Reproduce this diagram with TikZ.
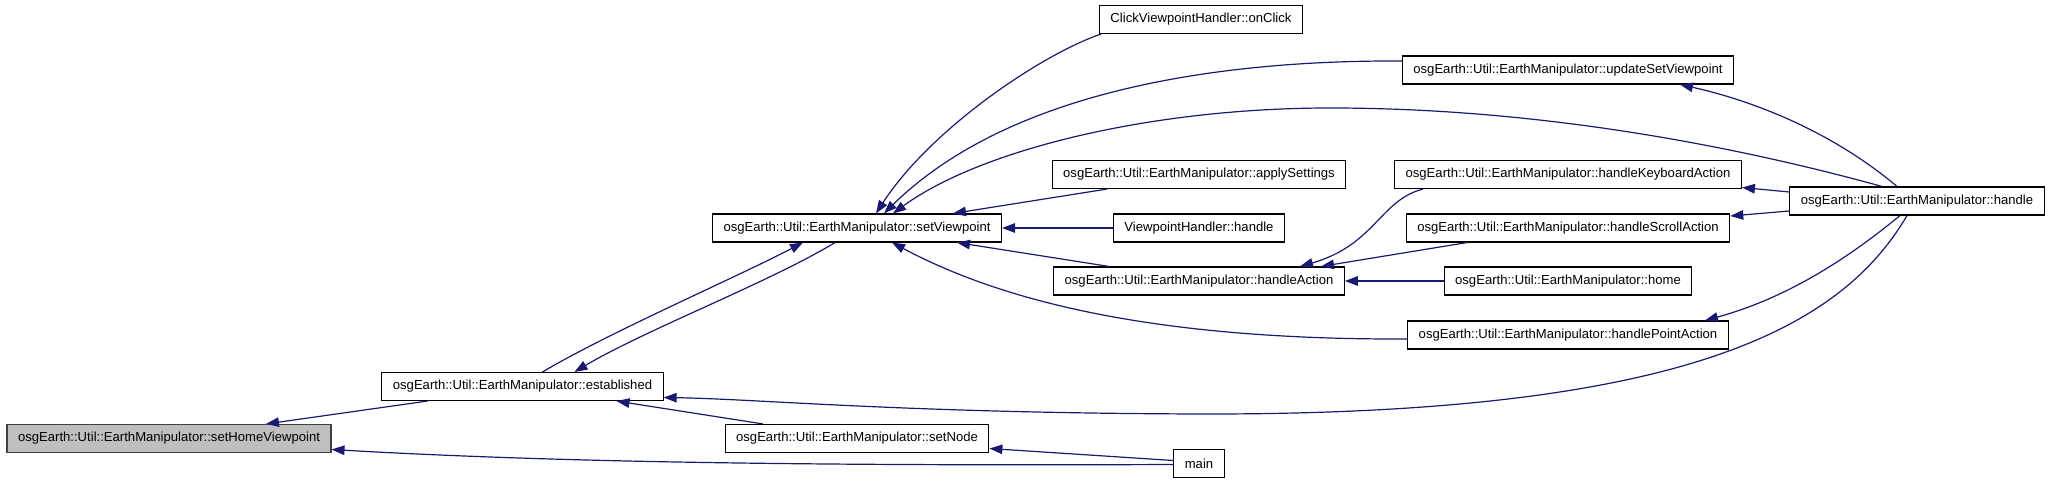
\documentclass[tikz,border=0pt]{standalone}
\usepackage{fontspec}
\setmainfont{Liberation Sans}
\usetikzlibrary{arrows.meta}
\definecolor{edgeBlue}{RGB}{25,25,112}
\definecolor{boxGray}{RGB}{191,191,191}

\begin{document}
\begin{tikzpicture}[x=1pt, y=-1pt,
    fn/.style={draw=black, line width=1.1pt, fill=white, inner xsep=11pt, inner ysep=0pt,
      minimum height=28pt, font=\fontsize{13.1}{15}\selectfont},
    call/.style={edgeBlue, line width=1.2pt, -{Triangle[length=13pt, width=9.5pt]}}]
  \useasboundingbox (0,0) rectangle (2051,484);

  % functions
  \node[fn, fill=boxGray, draw=black!75] (hv) at (169,438.5) {osgEarth::Util::EarthManipulator::setHomeViewpoint};
  \node[fn] (est) at (522.5,386.5) {osgEarth::Util::EarthManipulator::established};
  \node[fn] (sv) at (857,228) {osgEarth::Util::EarthManipulator::setViewpoint};
  \node[fn] (sn) at (857,438.5) {osgEarth::Util::EarthManipulator::setNode};
  \node[fn] (main) at (1199,463.5) {main};
  \node[fn] (oc) at (1201,19.5) {ClickViewpointHandler::onClick};
  \node[fn] (as) at (1199,174.5) {osgEarth::Util::EarthManipulator::applySettings};
  \node[fn] (vh) at (1199,228) {ViewpointHandler::handle};
  \node[fn] (ha) at (1199,281) {osgEarth::Util::EarthManipulator::handleAction};
  \node[fn] (usv) at (1568,70) {osgEarth::Util::EarthManipulator::updateSetViewpoint};
  \node[fn] (hka) at (1568,174.5) {osgEarth::Util::EarthManipulator::handleKeyboardAction};
  \node[fn] (hsa) at (1568,228) {osgEarth::Util::EarthManipulator::handleScrollAction};
  \node[fn] (home) at (1568,281) {osgEarth::Util::EarthManipulator::home};
  \node[fn] (hpa) at (1568,335) {osgEarth::Util::EarthManipulator::handlePointAction};
  \node[fn] (hdl) at (1917,201) {osgEarth::Util::EarthManipulator::handle};

  % calls
  \draw[call] ([xshift=-95pt]est.south) -- ([xshift=97pt]hv.north);
  \draw[call] ([yshift=-1pt]main.west) .. controls (800,466) and (550,462) .. ([yshift=-11pt]hv.east);
  \draw[call] ([xshift=20pt]est.north) .. controls (610,332) and (735,278) .. ([xshift=-54pt]sv.south);
  \draw[call] ([xshift=-22pt]sv.south) .. controls (770,282) and (645,330) .. ([xshift=52pt]est.north);
  \draw[call] ([xshift=-94pt]sn.north) -- ([xshift=94pt]est.south);
  \draw[call] ([xshift=-10pt]hdl.south) .. controls (1840,330) and (1680,415) .. (1200,414)
    .. controls (900,413) and (760,399) .. ([yshift=-11pt]est.east);
  \draw[call] ([yshift=3pt]main.west) -- ([yshift=-10pt]sn.east);
  \draw[call] ([xshift=-100pt]oc.south) .. controls (1040,55) and (930,130) .. ([xshift=19pt]sv.north);
  \draw[call] ([yshift=9pt]usv.west) .. controls (1220,60) and (1010,90) .. ([xshift=27pt]sv.north);
  \draw[call] ([xshift=-35pt]hdl.north) .. controls (1750,150) and (1550,108) .. (1330,108)
    .. controls (1150,108) and (980,150) .. ([xshift=36pt]sv.north);
  \draw[call] ([xshift=-92pt]as.south) -- ([xshift=96pt]sv.north);
  \draw[call] (vh.west) -- (sv.east);
  \draw[call] ([xshift=-90pt]ha.north) -- ([xshift=100pt]sv.south);
  \draw[call] ([yshift=-4pt]hpa.west) .. controls (1150,340) and (1000,300) .. ([xshift=35pt]sv.south);
  \draw[call] ([xshift=-145pt]hka.south) .. controls (1380,200) and (1375,245) .. ([xshift=101pt]ha.north);
  \draw[call] ([xshift=-101pt]hsa.south) -- ([xshift=122pt]ha.north);
  \draw[call] (home.west) -- (ha.east);
  \draw[call] ([yshift=9pt]hdl.west) -- ([yshift=-13pt]hka.east);
  \draw[call] ([yshift=-10pt]hdl.west) -- ([yshift=12pt]hsa.east);
  \draw[call] ([xshift=-20pt]hdl.north) .. controls (1830,130) and (1750,100) .. ([xshift=112pt]usv.south);
  \draw[call] ([xshift=-17pt]hdl.south) .. controls (1840,265) and (1780,300) .. ([xshift=137pt]hpa.north);
\end{tikzpicture}
\end{document}
